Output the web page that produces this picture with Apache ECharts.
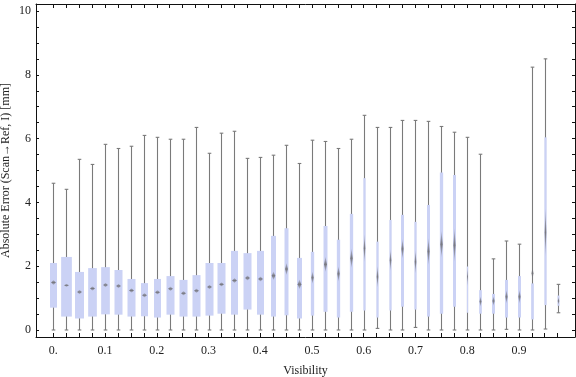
<!DOCTYPE html>
<html>
<head>
<meta charset="utf-8">
<script src="https://cdn.jsdelivr.net/npm/echarts@6/dist/echarts.min.js"></script>
<style>
  html, body { margin: 0; padding: 0; background: #fff; }
  #chart { width: 576px; height: 377px; }
</style>
</head>
<body>
<div id="chart"></div>
<script>
// visibility bins (box positions)
const visibility = [0, 0.025, 0.05, 0.075, 0.1, 0.125, 0.15, 0.175, 0.2, 0.225,
  0.25, 0.275, 0.3, 0.325, 0.35, 0.375, 0.4, 0.425, 0.45, 0.475,
  0.5, 0.525, 0.55, 0.575, 0.6, 0.625, 0.65, 0.675, 0.7, 0.725,
  0.75, 0.775, 0.8, 0.825, 0.85, 0.875, 0.9, 0.925, 0.95, 0.975]

// absolute error statistics [mm]
const whiskerLow = [0, 0, 0, 0, 0, 0, 0, 0, 0, 0,
  0, 0, 0, 0, 0, 0, 0, 0, 0, 0,
  0, 0, 0, 0, 0, 0.05, 0, 0, 0.08, 0,
  0, 0, 0, 0, 0, 0.02, 0, 0, 0.03, 0.54]
const q1 = [0.70, 0.42, 0.36, 0.42, 0.49, 0.48, 0.42, 0.43, 0.39, 0.48,
  0.42, 0.42, 0.45, 0.51, 0.48, 0.64, 0.48, 0.42, 0.46, 0.36,
  0.45, 0.57, 0.39, 0.57, 0.61, 0.39, 0.61, 0.73, 0.64, 0.42,
  0.51, 0.73, 0.54, 0.51, 0.51, 0.39, 0.39, 0.33, 0.78, 0.76]
const mean = [1.49, 1.40, 1.19, 1.30, 1.41, 1.38, 1.24, 1.09, 1.18, 1.29,
  1.15, 1.23, 1.35, 1.43, 1.55, 1.63, 1.60, 1.70, 1.91, 1.43,
  1.64, 2.06, 1.76, 2.25, 2.56, 1.67, 2.19, 2.54, 2.14, 2.46,
  2.69, 2.66, 1.67, 0.89, 0.91, 1.04, 1.04, 1.78, 3.06, 0.91]
const q3 = [2.10, 2.29, 1.82, 1.94, 1.97, 1.88, 1.60, 1.47, 1.60, 1.69,
  1.57, 1.72, 2.10, 2.10, 2.48, 2.41, 2.48, 2.95, 3.19, 2.26,
  2.45, 3.26, 2.83, 3.64, 4.76, 2.77, 3.45, 3.61, 3.39, 3.92,
  4.94, 4.86, 1.99, 1.25, 1.13, 1.57, 1.69, 1.46, 6.04, 1.08]
const whiskerHigh = [4.60, 4.41, 5.35, 5.19, 5.82, 5.69, 5.76, 6.10, 6.04, 5.98,
  5.98, 6.35, 5.54, 6.17, 6.23, 5.38, 5.41, 5.48, 5.79, 5.22,
  5.95, 5.91, 5.69, 5.98, 6.73, 6.35, 6.35, 6.57, 6.57, 6.54,
  6.38, 6.20, 6.04, 5.51, 2.23, 2.79, 2.69, 8.24, 8.50, 1.43]
// half-height of the mean marker (uncertainty of the mean) [mm]
const meanSpread = [0.08, 0.05, 0.07, 0.07, 0.07, 0.07, 0.07, 0.07, 0.07, 0.07,
  0.07, 0.07, 0.07, 0.07, 0.08, 0.08, 0.08, 0.13, 0.19, 0.15,
  0.19, 0.24, 0.24, 0.31, 0.44, 0.34, 0.34, 0.31, 0.37, 0.42,
  0.42, 0.52, 0.31, 0.16, 0.15, 0.21, 0.21, 0.21, 0.76, 0.13]
// box width in visibility units (varies with bin population)
const boxWidth = [0.0135, 0.0207, 0.0174, 0.0168, 0.0168, 0.0155, 0.0155, 0.0135, 0.0135, 0.0155,
  0.0155, 0.0155, 0.0155, 0.0155, 0.0135, 0.0155, 0.0135, 0.0097, 0.0077, 0.0097,
  0.0064, 0.0077, 0.0064, 0.0064, 0.0044, 0.0044, 0.0044, 0.0058, 0.0044, 0.0058,
  0.0064, 0.0058, 0.0025, 0.0052, 0.0058, 0.0058, 0.0058, 0.0052, 0.0044, 0.0039]

const xLabelValues = [0, 0.1, 0.2, 0.3, 0.4, 0.5, 0.6, 0.7, 0.8, 0.9]
const yLabelValues = [0, 2, 4, 6, 8, 10]
const yTickValues = [0, 0.5, 1, 1.5, 2, 2.5, 3, 3.5, 4, 4.5, 5, 5.5, 6, 6.5, 7, 7.5, 8, 8.5, 9, 9.5, 10]

const boxData = visibility.map((v, i) =>
  [v, whiskerLow[i], q1[i], mean[i], q3[i], whiskerHigh[i], meanSpread[i], boxWidth[i]])

const FONT = 'Liberation Serif'
const TEXT = '#222'
const FRAME = '#111'

function renderBox(params, api) {
  const x = api.value(0)
  const pLow = api.coord([x, api.value(1)])
  const pQ1 = api.coord([x, api.value(2)])
  const pMean = api.coord([x, api.value(3)])
  const pQ3 = api.coord([x, api.value(4)])
  const pHigh = api.coord([x, api.value(5)])
  const halfH = api.size([0, api.value(6)])[1]
  const w = api.size([api.value(7), 0])[0]
  const cx = Math.round(pLow[0]) + 0.5
  const whisker = { stroke: '#7a7a7a', lineWidth: 1.1 }
  const dw = Math.min(2.4, w * 0.36)
  return {
    type: 'group',
    children: [
      { type: 'line', shape: { x1: cx, y1: pLow[1], x2: cx, y2: pHigh[1] }, style: whisker },
      { type: 'line', shape: { x1: cx - 1.8, y1: pLow[1], x2: cx + 1.8, y2: pLow[1] }, style: whisker },
      { type: 'line', shape: { x1: cx - 1.8, y1: pHigh[1], x2: cx + 1.8, y2: pHigh[1] }, style: whisker },
      {
        type: 'rect',
        shape: { x: cx - w / 2, y: pQ3[1], width: w, height: pQ1[1] - pQ3[1] },
        style: { fill: '#cbd2f5' }
      },
      {
        type: 'polygon',
        shape: { points: [[cx, pMean[1] - halfH], [cx + dw, pMean[1]], [cx, pMean[1] + halfH], [cx - dw, pMean[1]]] },
        style: {
          fill: new echarts.graphic.LinearGradient(0, 0, 0, 1, [
            { offset: 0, color: 'rgba(120,120,130,0.25)' },
            { offset: 0.5, color: 'rgba(115,115,120,0.95)' },
            { offset: 1, color: 'rgba(120,120,130,0.25)' }
          ])
        }
      }
    ]
  }
}

const chart = echarts.init(document.getElementById('chart'))

const xBase = {
  type: 'value',
  min: -0.0335,
  max: 1.0085,
  nameMoveOverlap: false,
  splitLine: { show: false },
  axisLine: { onZero: false, lineStyle: { color: FRAME, width: 1 } },
  axisTick: { inside: true, length: 4, lineStyle: { color: FRAME }, customValues: visibility }
}
const yBase = {
  type: 'value',
  min: -0.22,
  max: 10.22,
  nameMoveOverlap: false,
  splitLine: { show: false },
  axisLine: { onZero: false, lineStyle: { color: FRAME, width: 1 } },
  axisTick: { inside: true, length: 3, lineStyle: { color: FRAME }, customValues: yTickValues }
}

chart.setOption({
  animation: false,
  backgroundColor: '#fff',
  grid: { left: 36, right: 1, top: 4, bottom: 40, containLabel: false, outerBoundsMode: 'none' },
  xAxis: [
    {
      ...xBase,
      position: 'bottom',
      name: 'Visibility',
      nameLocation: 'middle',
      nameGap: 28,
      nameTextStyle: { fontFamily: FONT, fontSize: 12, color: TEXT },
      axisLabel: {
        customValues: xLabelValues,
        fontFamily: FONT, fontSize: 12, color: TEXT, margin: 8,
        formatter: v => (v === 0 ? '0.' : v.toFixed(1))
      }
    },
    { ...xBase, position: 'top', axisLabel: { show: false } }
  ],
  yAxis: [
    {
      ...yBase,
      position: 'left',
      name: 'Absolute Error (Scan→Ref, I) [mm]',
      nameLocation: 'middle',
      nameGap: 24,
      nameTextStyle: { fontFamily: FONT, fontSize: 12, color: TEXT },
      axisLabel: { customValues: yLabelValues, fontFamily: FONT, fontSize: 12, color: TEXT, margin: 5 }
    },
    { ...yBase, position: 'right', axisLabel: { show: false } }
  ],
  series: [
    {
      type: 'custom',
      xAxisIndex: 0,
      yAxisIndex: 0,
      renderItem: renderBox,
      encode: { x: 0, y: [1, 5] },
      data: boxData
    }
  ]
})
</script>
</body>
</html>
